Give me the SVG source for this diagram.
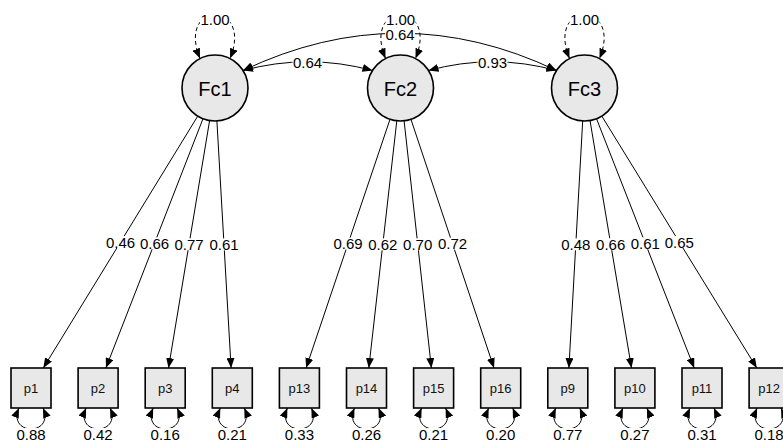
<svg xmlns="http://www.w3.org/2000/svg" width="783" height="443" viewBox="0 0 783 443">
<style>
.bg{fill:#ffffff}
.edge{fill:none;stroke:#000;stroke-width:1}
.arr{marker-end:url(#ah)}
.dbl{marker-start:url(#ah);marker-end:url(#ah)}
.dash{stroke-dasharray:4,3}
.lat{fill:#e8e8e8;stroke:#000;stroke-width:1.6}
.man{fill:#e8e8e8;stroke:#000;stroke-width:1.6}
.lbl{font-family:"Liberation Sans",Arial,sans-serif;font-size:15px;fill:#000;text-anchor:middle}
.lb{fill:#fff}
.ft{font-family:"Liberation Sans",Arial,sans-serif;font-size:20px;fill:#000;text-anchor:middle}
.mt{font-family:"Liberation Sans",Arial,sans-serif;font-size:13px;fill:#111;text-anchor:middle}
</style>
<defs>
<marker id="ah" markerUnits="userSpaceOnUse" markerWidth="10" markerHeight="8" refX="10" refY="4" orient="auto-start-reverse" viewBox="0 0 10 8">
<path d="M0,0 L10,4 L0,8 Z" fill="#000"/>
</marker>
</defs>
<rect class="bg" x="0" y="0" width="783" height="443"/>
<g id="connectors">
<path class="edge dbl dash" d="M200,58.5 C176,0 254,0 230,58.5"/>
<path class="edge dbl dash" d="M385.5,58.5 C361.5,0 439.5,0 415.5,58.5"/>
<path class="edge dbl dash" d="M569.5,58.5 C545.5,0 623.5,0 599.5,58.5"/>
<path class="edge dbl" d="M243,70.5 Q307.75,53 372.5,70.5"/>
<path class="edge dbl" d="M428.5,70.5 Q492.5,53 556.5,70.5"/>
<path class="edge dbl" d="M243,70.5 Q400,-4 556.5,70.5"/>
<path class="edge arr" d="M197.75,116.1 L43.3,368"/>
<path class="edge arr" d="M203,118.7 L105.9,368"/>
<path class="edge arr" d="M209.6,120.6 L168.5,368"/>
<path class="edge arr" d="M216.9,120.9 L231.1,368"/>
<path class="edge arr" d="M390,119.3 L306.1,368"/>
<path class="edge arr" d="M396.8,120.8 L368.8,368"/>
<path class="edge arr" d="M404.1,120.8 L431.4,368"/>
<path class="edge arr" d="M410.95,119.3 L494,368"/>
<path class="edge arr" d="M582.7,120.9 L568.9,368"/>
<path class="edge arr" d="M590,120.5 L631.5,368"/>
<path class="edge arr" d="M596.5,118.7 L694.2,368"/>
<path class="edge arr" d="M601.8,116.1 L756.8,368"/>
<path class="edge dbl" d="M19,408 C7,436 55,436 43,408"/>
<path class="edge dbl" d="M86.1,408 C74.1,436 122.1,436 110.1,408"/>
<path class="edge dbl" d="M153.2,408 C141.2,436 189.2,436 177.2,408"/>
<path class="edge dbl" d="M220.3,408 C208.3,436 256.3,436 244.3,408"/>
<path class="edge dbl" d="M287.4,408 C275.4,436 323.4,436 311.4,408"/>
<path class="edge dbl" d="M354.5,408 C342.5,436 390.5,436 378.5,408"/>
<path class="edge dbl" d="M421.6,408 C409.6,436 457.6,436 445.6,408"/>
<path class="edge dbl" d="M488.7,408 C476.7,436 524.7,436 512.7,408"/>
<path class="edge dbl" d="M555.8,408 C543.8,436 591.8,436 579.8,408"/>
<path class="edge dbl" d="M622.9,408 C610.9,436 658.9,436 646.9,408"/>
<path class="edge dbl" d="M690,408 C678,436 726,436 714,408"/>
<path class="edge dbl" d="M757.1,408 C745.1,436 793.1,436 781.1,408"/>
</g>
<g id="edge-labels">
<rect class="lb" x="200" y="13" width="30" height="12"/><text class="lbl" x="215" y="24.5">1.00</text>
<rect class="lb" x="385.5" y="13" width="30" height="12"/><text class="lbl" x="400.5" y="24.5">1.00</text>
<rect class="lb" x="569.5" y="13" width="30" height="12"/><text class="lbl" x="584.5" y="24.5">1.00</text>
<rect class="lb" x="385" y="28.5" width="30" height="12"/><text class="lbl" x="400" y="40">0.64</text>
<rect class="lb" x="292.5" y="56" width="30" height="12"/><text class="lbl" x="307.5" y="67.5">0.64</text>
<rect class="lb" x="477.5" y="56" width="30" height="12"/><text class="lbl" x="492.5" y="67.5">0.93</text>
<rect class="lb" x="105.5" y="236" width="30" height="12"/><text class="lbl" x="120.5" y="247.5">0.46</text>
<rect class="lb" x="139.5" y="237.3" width="30" height="12"/><text class="lbl" x="154.5" y="248.8">0.66</text>
<rect class="lb" x="174" y="238.2" width="30" height="12"/><text class="lbl" x="189" y="249.7">0.77</text>
<rect class="lb" x="209" y="238.4" width="30" height="12"/><text class="lbl" x="224" y="249.9">0.61</text>
<rect class="lb" x="333" y="237.6" width="30" height="12"/><text class="lbl" x="348" y="249.1">0.69</text>
<rect class="lb" x="367.8" y="238.3" width="30" height="12"/><text class="lbl" x="382.8" y="249.8">0.62</text>
<rect class="lb" x="402.7" y="238.3" width="30" height="12"/><text class="lbl" x="417.7" y="249.8">0.70</text>
<rect class="lb" x="437.5" y="237.6" width="30" height="12"/><text class="lbl" x="452.5" y="249.1">0.72</text>
<rect class="lb" x="560.8" y="238.4" width="30" height="12"/><text class="lbl" x="575.8" y="249.9">0.48</text>
<rect class="lb" x="595.7" y="238.2" width="30" height="12"/><text class="lbl" x="610.7" y="249.7">0.66</text>
<rect class="lb" x="630.3" y="237.3" width="30" height="12"/><text class="lbl" x="645.3" y="248.8">0.61</text>
<rect class="lb" x="664.3" y="236" width="30" height="12"/><text class="lbl" x="679.3" y="247.5">0.65</text>
<rect class="lb" x="16" y="428" width="30" height="12"/><text class="lbl" x="31" y="439.5">0.88</text>
<rect class="lb" x="83.1" y="428" width="30" height="12"/><text class="lbl" x="98.1" y="439.5">0.42</text>
<rect class="lb" x="150.2" y="428" width="30" height="12"/><text class="lbl" x="165.2" y="439.5">0.16</text>
<rect class="lb" x="217.3" y="428" width="30" height="12"/><text class="lbl" x="232.3" y="439.5">0.21</text>
<rect class="lb" x="284.4" y="428" width="30" height="12"/><text class="lbl" x="299.4" y="439.5">0.33</text>
<rect class="lb" x="351.5" y="428" width="30" height="12"/><text class="lbl" x="366.5" y="439.5">0.26</text>
<rect class="lb" x="418.6" y="428" width="30" height="12"/><text class="lbl" x="433.6" y="439.5">0.21</text>
<rect class="lb" x="485.7" y="428" width="30" height="12"/><text class="lbl" x="500.7" y="439.5">0.20</text>
<rect class="lb" x="552.8" y="428" width="30" height="12"/><text class="lbl" x="567.8" y="439.5">0.77</text>
<rect class="lb" x="619.9" y="428" width="30" height="12"/><text class="lbl" x="634.9" y="439.5">0.27</text>
<rect class="lb" x="687" y="428" width="30" height="12"/><text class="lbl" x="702" y="439.5">0.31</text>
<rect class="lb" x="754.1" y="428" width="30" height="12"/><text class="lbl" x="769.1" y="439.5">0.18</text>
</g>
<g id="Fc1"><circle class="lat" cx="215" cy="88" r="33"/><text class="ft" x="215" y="95.5">Fc1</text></g>
<g id="Fc2"><circle class="lat" cx="400.5" cy="88" r="33"/><text class="ft" x="400.5" y="95.5">Fc2</text></g>
<g id="Fc3"><circle class="lat" cx="584.5" cy="88" r="33"/><text class="ft" x="584.5" y="95.5">Fc3</text></g>
<g id="p1"><rect class="man" x="11" y="368" width="40" height="40"/><text class="mt" x="31" y="392.5">p1</text></g>
<g id="p2"><rect class="man" x="78.1" y="368" width="40" height="40"/><text class="mt" x="98.1" y="392.5">p2</text></g>
<g id="p3"><rect class="man" x="145.2" y="368" width="40" height="40"/><text class="mt" x="165.2" y="392.5">p3</text></g>
<g id="p4"><rect class="man" x="212.3" y="368" width="40" height="40"/><text class="mt" x="232.3" y="392.5">p4</text></g>
<g id="p13"><rect class="man" x="279.4" y="368" width="40" height="40"/><text class="mt" x="299.4" y="392.5">p13</text></g>
<g id="p14"><rect class="man" x="346.5" y="368" width="40" height="40"/><text class="mt" x="366.5" y="392.5">p14</text></g>
<g id="p15"><rect class="man" x="413.6" y="368" width="40" height="40"/><text class="mt" x="433.6" y="392.5">p15</text></g>
<g id="p16"><rect class="man" x="480.7" y="368" width="40" height="40"/><text class="mt" x="500.7" y="392.5">p16</text></g>
<g id="p9"><rect class="man" x="547.8" y="368" width="40" height="40"/><text class="mt" x="567.8" y="392.5">p9</text></g>
<g id="p10"><rect class="man" x="614.9" y="368" width="40" height="40"/><text class="mt" x="634.9" y="392.5">p10</text></g>
<g id="p11"><rect class="man" x="682" y="368" width="40" height="40"/><text class="mt" x="702" y="392.5">p11</text></g>
<g id="p12"><rect class="man" x="749.1" y="368" width="40" height="40"/><text class="mt" x="769.1" y="392.5">p12</text></g>
</svg>
